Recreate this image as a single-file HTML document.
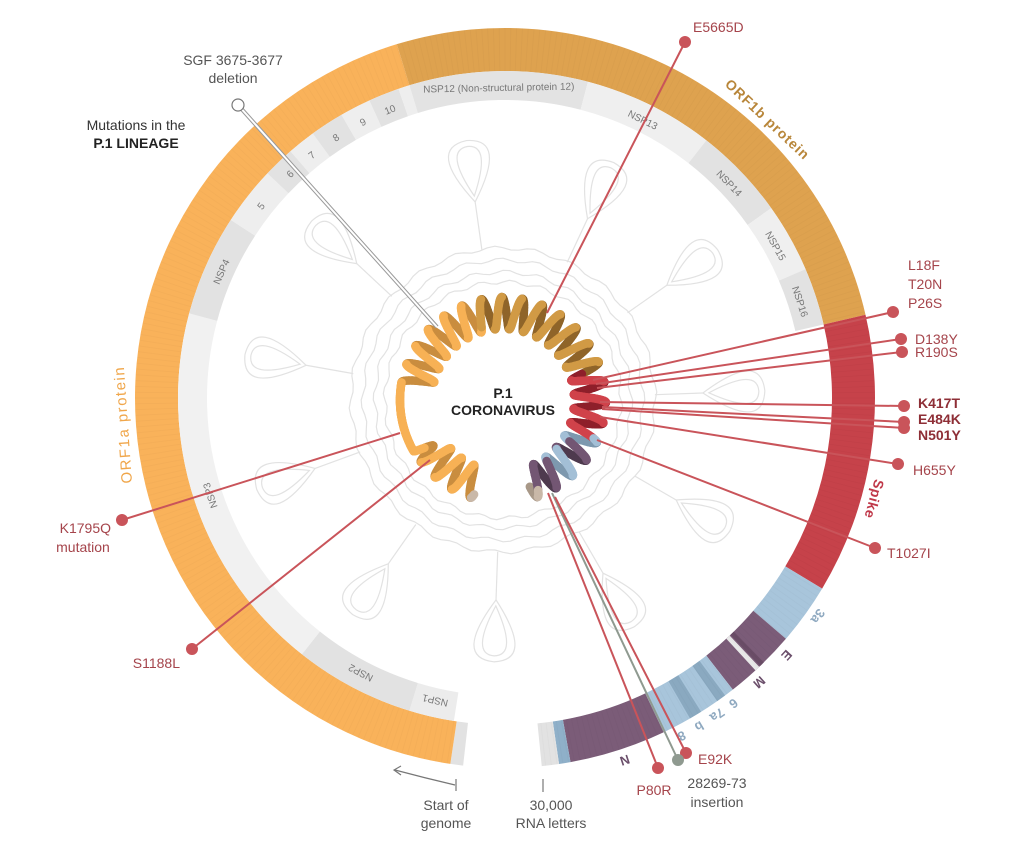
<!DOCTYPE html>
<html><head><meta charset="utf-8"><style>
html,body{margin:0;padding:0;background:#fff;}
svg{display:block;font-family:"Liberation Sans",sans-serif;}
</style></head><body>
<svg id="s" width="1024" height="844" viewBox="0 0 1024 844" xmlns="http://www.w3.org/2000/svg">
<g id="bg" fill="none" stroke="#e2e2e2" stroke-width="1.2"></g>
<g id="ring"></g>
<g id="rlab"></g>
<g id="helix"></g>
<g id="lines" stroke-width="2" fill="none">
  <line x1="437" y1="327" x2="238" y2="105" stroke="#999" stroke-width="4"/>
  <line x1="437" y1="327" x2="238" y2="105" stroke="#fff" stroke-width="2"/>
  <line x1="547" y1="313" x2="685" y2="42" stroke="#c9545a"/>
  <line x1="400" y1="433" x2="122" y2="520" stroke="#c9545a"/>
  <line x1="430" y1="460" x2="192" y2="649" stroke="#c9545a"/>
  <line x1="593" y1="380" x2="893" y2="312" stroke="#c9545a"/>
  <line x1="596" y1="384" x2="901" y2="339" stroke="#c9545a"/>
  <line x1="597" y1="388" x2="902" y2="352" stroke="#c9545a"/>
  <line x1="600" y1="402" x2="904" y2="406" stroke="#c9545a"/>
  <line x1="602" y1="407" x2="904" y2="422" stroke="#c9545a"/>
  <line x1="602" y1="409" x2="904" y2="428" stroke="#c9545a"/>
  <line x1="600" y1="417" x2="898" y2="464" stroke="#c9545a"/>
  <line x1="597" y1="440" x2="875" y2="548" stroke="#c9545a"/>
  <line x1="548" y1="493" x2="658" y2="768" stroke="#c9545a"/>
  <line x1="552" y1="493" x2="678" y2="760" stroke="#8f9a90"/>
  <line x1="555" y1="497" x2="686" y2="753" stroke="#c9545a"/>
</g>
<g fill="#c9545a">
  <circle cx="685" cy="42" r="6"/><circle cx="122" cy="520" r="6"/><circle cx="192" cy="649" r="6"/>
  <circle cx="893" cy="312" r="6"/><circle cx="901" cy="339" r="6"/><circle cx="902" cy="352" r="6"/>
  <circle cx="904" cy="406" r="6"/><circle cx="904" cy="422" r="6"/><circle cx="904" cy="428" r="6"/>
  <circle cx="898" cy="464" r="6"/><circle cx="875" cy="548" r="6"/><circle cx="658" cy="768" r="6"/>
  <circle cx="686" cy="753" r="6"/>
</g>
<circle cx="678" cy="760" r="6" fill="#8f9a90"/>
<circle cx="238" cy="105" r="6" fill="#fff" stroke="#777" stroke-width="1.2"/>
<g font-size="14" fill="#a5444b">
  <text x="693" y="32">E5665D</text>
  <text x="111" y="533" text-anchor="end">K1795Q</text>
  <text x="83" y="552" text-anchor="middle">mutation</text>
  <text x="180" y="668" text-anchor="end">S1188L</text>
  <text x="908" y="270">L18F</text>
  <text x="908" y="289">T20N</text>
  <text x="908" y="308">P26S</text>
  <text x="915" y="344">D138Y</text>
  <text x="915" y="357">R190S</text>
  <text x="918" y="408" font-weight="bold" fill="#8e2e36">K417T</text>
  <text x="918" y="424" font-weight="bold" fill="#8e2e36">E484K</text>
  <text x="918" y="440" font-weight="bold" fill="#8e2e36">N501Y</text>
  <text x="913" y="475">H655Y</text>
  <text x="887" y="558">T1027I</text>
  <text x="654" y="795" text-anchor="middle">P80R</text>
  <text x="698" y="764">E92K</text>
</g>
<g font-size="14" fill="#555" text-anchor="middle">
  <text x="233" y="65">SGF 3675-3677</text>
  <text x="233" y="83">deletion</text>
  <text x="717" y="788">28269-73</text>
  <text x="717" y="807">insertion</text>
  <text x="446" y="810">Start of</text>
  <text x="446" y="828">genome</text>
  <text x="551" y="810">30,000</text>
  <text x="551" y="828">RNA letters</text>
</g>
<text x="136" y="130" font-size="14" fill="#333" text-anchor="middle">Mutations in the</text>
<text x="136" y="148" font-size="14" fill="#222" font-weight="bold" text-anchor="middle">P.1 LINEAGE</text>
<text x="503" y="398" font-size="14" fill="#222" font-weight="bold" text-anchor="middle">P.1</text>
<text x="503" y="415" font-size="14" fill="#222" font-weight="bold" text-anchor="middle">CORONAVIRUS</text>
<path d="M455 785 Q425 778 395 770" stroke="#777" stroke-width="1.2" fill="none"/>
<path d="M401 766 L394 770 L401 775" stroke="#777" stroke-width="1.2" fill="none"/>
<line x1="456" y1="779" x2="456" y2="791" stroke="#777" stroke-width="1.2"/>
<line x1="543" y1="779" x2="543" y2="792" stroke="#777" stroke-width="1.2"/>
</svg>
<script>
(function(){
const NS="http://www.w3.org/2000/svg";
const CX=505,CY=398;
function el(tag,attrs,parent,txt){const e=document.createElementNS(NS,tag);for(const k in attrs)e.setAttribute(k,attrs[k]);if(txt!==undefined)e.textContent=txt;parent.appendChild(e);return e;}
function P(cx,cy,a,r){const t=a*Math.PI/180;return [cx+r*Math.sin(t),cy-r*Math.cos(t)];}
function arc(cx,cy,r1,r2,a1,a2){const l=(a2-a1)>180?1:0;const p1=P(cx,cy,a1,r2),p2=P(cx,cy,a2,r2),p3=P(cx,cy,a2,r1),p4=P(cx,cy,a1,r1);
 return `M${p1[0]} ${p1[1]} A${r2} ${r2} 0 ${l} 1 ${p2[0]} ${p2[1]} L${p3[0]} ${p3[1]} A${r1} ${r1} 0 ${l} 0 ${p4[0]} ${p4[1]}Z`;}
const ring=document.getElementById('ring');
const segs=[[186.5,188.5,'#e2e2e2'],[188.5,343,'#f9b25a'],[343,437,'#dea24f'],[437,481,'#c6424a'],
 [481,490.6,'#a8c5db'],[490.6,502,'#7b5c78'],[502,514.6,'#a8c5db'],[514.6,529.8,'#7b5c78'],[529.8,531.6,'#8fb0c9'],[531.6,534.3,'#e2e2e2']];
segs.forEach(s=>el('path',{d:arc(CX,CY,327,370,s[0],s[1]),fill:s[2]},ring));
[[495.6,496.4,'#6a4d67'],[496.6,497.4,'#e8e8e8'],[503.5,505,'#8aa9c0'],[508,510,'#8aa9c0']].forEach(s=>el('path',{d:arc(CX,CY,327,370,s[0],s[1]),fill:s[2]},ring));
for(let a=189;a<534;a+=0.9){const p1=P(CX,CY,a,327),p2=P(CX,CY,a,370);el('line',{x1:p1[0],y1:p1[1],x2:p2[0],y2:p2[1],stroke:'rgba(0,0,0,0.018)','stroke-width':1},ring);}
const nsp=[[189,197,'#ececec','NSP1'],[197,218.4,'#e2e2e2','NSP2'],[218.4,285,'#f1f1f1','NSP3'],[285,303,'#e2e2e2','NSP4'],[303,313.4,'#eeeeee','5'],
 [313.4,319,'#e2e2e2','6'],[319,324,'#eeeeee','7'],[324,330,'#e2e2e2','8'],[330,335.5,'#eeeeee','9'],[335.5,341,'#e2e2e2','10'],[341,343,'#eeeeee',''],
 [343,374.7,'#e3e3e3','NSP12 (Non-structural protein 12)'],[374.7,398,'#efefef','NSP13'],[398,414.5,'#e2e2e2','NSP14'],[414.5,426.8,'#efefef','NSP15'],[426.8,437,'#e2e2e2','NSP16']];
nsp.forEach(s=>{el('path',{d:arc(CX,CY,298,327,s[0],s[1]),fill:s[2]},ring);
 if(s[3]){const m=(s[0]+s[1])/2;el('text',{x:CX,y:CY-307,'font-size':10,fill:'#777','text-anchor':'middle',transform:`rotate(${m} ${CX} ${CY})`},ring,s[3]);}});
const rl=document.getElementById('rlab');
function rlab(t,a,r,fs,col,bold,ls){el('text',{x:CX,y:CY-r,'font-size':fs,fill:col,'font-weight':bold?'bold':'normal','letter-spacing':ls||0,'text-anchor':'middle',transform:`rotate(${a} ${CX} ${CY})`},rl,t);}
rlab('ORF1b protein',43.3,378,14,'#b8863a',true,1);
rlab('Spike',105.3,378,14,'#c0394a',true,0.5);
rlab('ORF1a protein',266,378,15,'#f0a64a',false,1.5);
[['3a',124.9,'#8fa9c0'],['E',132.4,'#6b4f6b'],['M',138.2,'#6b4f6b'],['6',143.2,'#8fa9c0'],['7a',146.2,'#8fa9c0'],['b',149.4,'#8fa9c0'],['8',152.4,'#8fa9c0'],['N',161.7,'#6b4f6b']]
 .forEach(s=>rlab(s[0],s[1],377,13,s[2],true,0));
const bg=document.getElementById('bg');
const vx=503,vy=400;
[118,128,140,152].forEach((r,i)=>{let d='';for(let a=0;a<=360;a+=3){const rr=r+2*Math.sin(a*Math.PI/180*24+i);const p=P(vx,vy,a,rr);d+=(a?'L':'M')+p[0].toFixed(1)+' '+p[1].toFixed(1);}el('path',{d:d+'Z'},bg);});
[-8,25,55,88,120,150,182,215,250,280,313].forEach(a=>{
 [[0,1],[6,0.6]].forEach(([o,sc])=>{
  const tip=262;
  const c1=P(vx,vy,a,200+o),L=P(vx,vy,a-9*sc,tip-o),R=P(vx,vy,a+9*sc,tip-o),T=P(vx,vy,a,tip-o);
  el('path',{d:`M${c1[0]} ${c1[1]} Q${L[0]} ${L[1]} ${T[0]} ${T[1]} Q${R[0]} ${R[1]} ${c1[0]} ${c1[1]}Z`},bg);});
 const s1=P(vx,vy,a,152),s2=P(vx,vy,a,200);el('line',{x1:s1[0],y1:s1[1],x2:s2[0],y2:s2[1]},bg);
});
const hx=document.getElementById('helix');
const hcol=[[186.5,188.5,'#c9b8a8','#a89888'],[188.5,343,'#f7b155','#c98d3f'],[343,437,'#d19a45','#8f6429'],[437,481,'#d0424a','#8e1f2a'],
 [481,490.6,'#a3bfd6','#7d98ae'],[490.6,502,'#735673','#4e3a4e'],[502,514.6,'#a3bfd6','#7d98ae'],[514.6,529.8,'#735673','#4e3a4e'],[529.8,534.3,'#c9b8a8','#a89888']];
function colAt(a){for(const c of hcol)if(a>=c[0]&&a<=c[1])return c;return hcol[1];}
const back=[],front=[];
let prev=null;
for(let a=186.5;a<=534.3;a+=0.4){
 const h=197+(a-186.5)*(523-197)/(534.3-186.5);
 const ph=2*Math.PI*h/11.5;
 let r=87+16*Math.sin(ph);
 let f=0;if(h>236&&h<284){f=Math.min(1,(h-236)/4,(284-h)/4);}
 r=r*(1-f)+103*f;
 const p=P(503,400,h,r);const c=colAt(a);
 if(prev){const isBack=Math.cos(ph)<0&&f<1;(isBack?back:front).push([prev,p,isBack?c[3]:c[2]]);}
 prev=p;}
back.concat(front).forEach(s=>el('line',{x1:s[0][0].toFixed(1),y1:s[0][1].toFixed(1),x2:s[1][0].toFixed(1),y2:s[1][1].toFixed(1),stroke:s[2],'stroke-width':8.5,'stroke-linecap':'round'},hx));
})();
</script>
</body></html>
